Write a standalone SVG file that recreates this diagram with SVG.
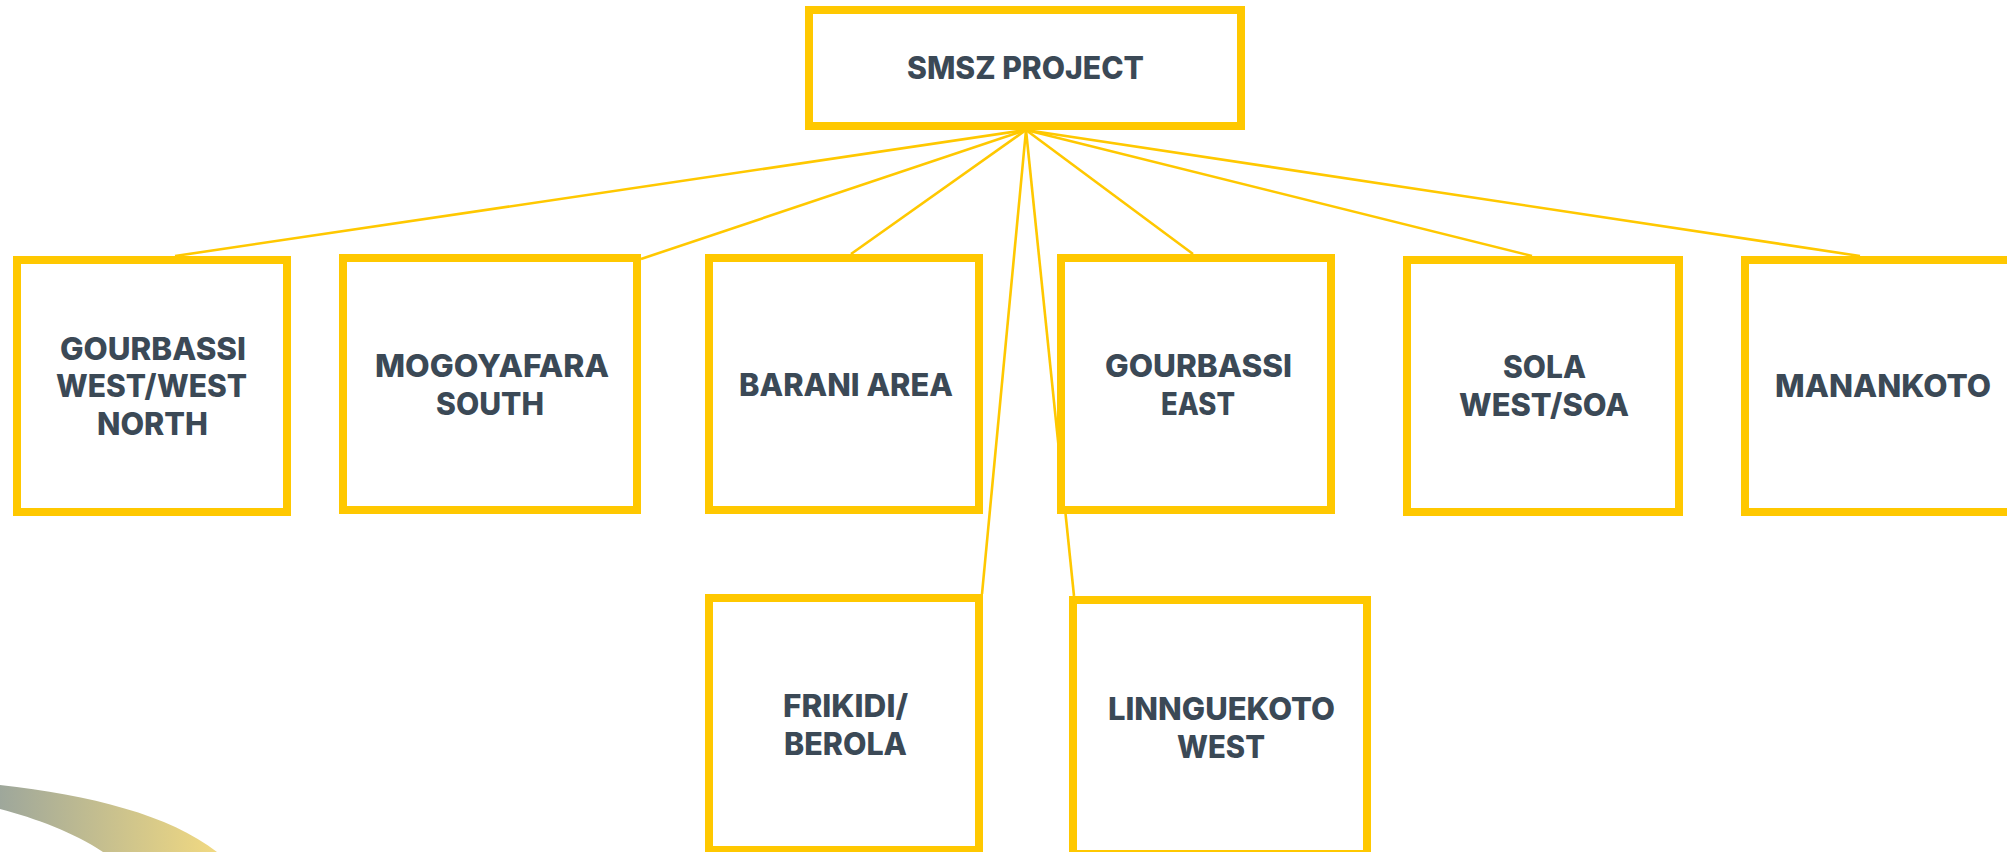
<svg xmlns="http://www.w3.org/2000/svg" width="2007" height="852" viewBox="0 0 2007 852">
<style>
.box{fill:#fff;stroke:#ffc800;stroke-width:8}
.lbl{font-family:"Inter","Noto Sans","Liberation Sans",sans-serif;font-weight:800;font-size:31px;fill:#3b4956}
.con{stroke:#ffc800;stroke-width:2.6;fill:none}
</style>
<defs><linearGradient id="sw" gradientUnits="userSpaceOnUse" x1="0" y1="0" x2="217" y2="0"><stop offset="0" stop-color="#9ea79b"/><stop offset="1" stop-color="#f1d981"/></linearGradient></defs>
<rect width="2007" height="852" fill="#fff"/>
<path id="swoosh" d="M0 785C90 795 170 815 217 852L103 852C75 833 35 818 0 809Z" fill="url(#sw)"/>
<g id="connectors">
<line class="con" x1="1026" y1="130" x2="175" y2="256"/>
<line class="con" x1="1026" y1="130" x2="641" y2="259"/>
<line class="con" x1="1026" y1="130" x2="851" y2="254"/>
<line class="con" x1="1026" y1="130" x2="982" y2="594"/>
<line class="con" x1="1026" y1="130" x2="1074" y2="596"/>
<line class="con" x1="1026" y1="130" x2="1193" y2="254"/>
<line class="con" x1="1026" y1="130" x2="1532" y2="256"/>
<line class="con" x1="1026" y1="130" x2="1860" y2="256"/>
</g>
<g id="smsz"><rect class="box" x="809" y="10" width="432" height="116"/><text class="lbl" x="907" y="79" textLength="237" lengthAdjust="spacingAndGlyphs">SMSZ PROJECT</text></g>
<g id="gourbassi-west"><rect class="box" x="17" y="260" width="270" height="252"/>
<text class="lbl" x="60" y="359.5" textLength="186" lengthAdjust="spacingAndGlyphs">GOURBASSI</text>
<text class="lbl" x="56" y="397" textLength="191" lengthAdjust="spacingAndGlyphs">WEST/WEST</text>
<text class="lbl" x="97" y="435" textLength="111" lengthAdjust="spacingAndGlyphs">NORTH</text></g>
<g id="mogoyafara"><rect class="box" x="343" y="258" width="294" height="252"/>
<text class="lbl" x="375" y="377" textLength="234" lengthAdjust="spacingAndGlyphs">MOGOYAFARA</text>
<text class="lbl" x="436" y="415" textLength="108" lengthAdjust="spacingAndGlyphs">SOUTH</text></g>
<g id="barani"><rect class="box" x="709" y="258" width="270" height="252"/>
<text class="lbl" x="739" y="395.5" textLength="214" lengthAdjust="spacingAndGlyphs">BARANI AREA</text></g>
<g id="gourbassi-east"><rect class="box" x="1061" y="258" width="270" height="252"/>
<text class="lbl" x="1105" y="376.5" textLength="187" lengthAdjust="spacingAndGlyphs">GOURBASSI</text>
<text class="lbl" x="1161" y="414.5" textLength="74" lengthAdjust="spacingAndGlyphs">EAST</text></g>
<g id="sola"><rect class="box" x="1407" y="260" width="272" height="252"/>
<text class="lbl" x="1503" y="378" textLength="83" lengthAdjust="spacingAndGlyphs">SOLA</text>
<text class="lbl" x="1459" y="416" textLength="170" lengthAdjust="spacingAndGlyphs">WEST/SOA</text></g>
<g id="manankoto"><rect class="box" x="1745" y="260" width="280" height="252"/>
<text class="lbl" x="1775" y="397" textLength="216" lengthAdjust="spacingAndGlyphs">MANANKOTO</text></g>
<g id="frikidi"><rect class="box" x="709" y="598" width="270" height="252"/>
<text class="lbl" x="783" y="717" textLength="125" lengthAdjust="spacingAndGlyphs">FRIKIDI/</text>
<text class="lbl" x="784" y="755" textLength="123" lengthAdjust="spacingAndGlyphs">BEROLA</text></g>
<g id="linnguekoto"><rect class="box" x="1073" y="600" width="294" height="254"/>
<text class="lbl" x="1108" y="720" textLength="227" lengthAdjust="spacingAndGlyphs">LINNGUEKOTO</text>
<text class="lbl" x="1177" y="758" textLength="88" lengthAdjust="spacingAndGlyphs">WEST</text></g>
</svg>
